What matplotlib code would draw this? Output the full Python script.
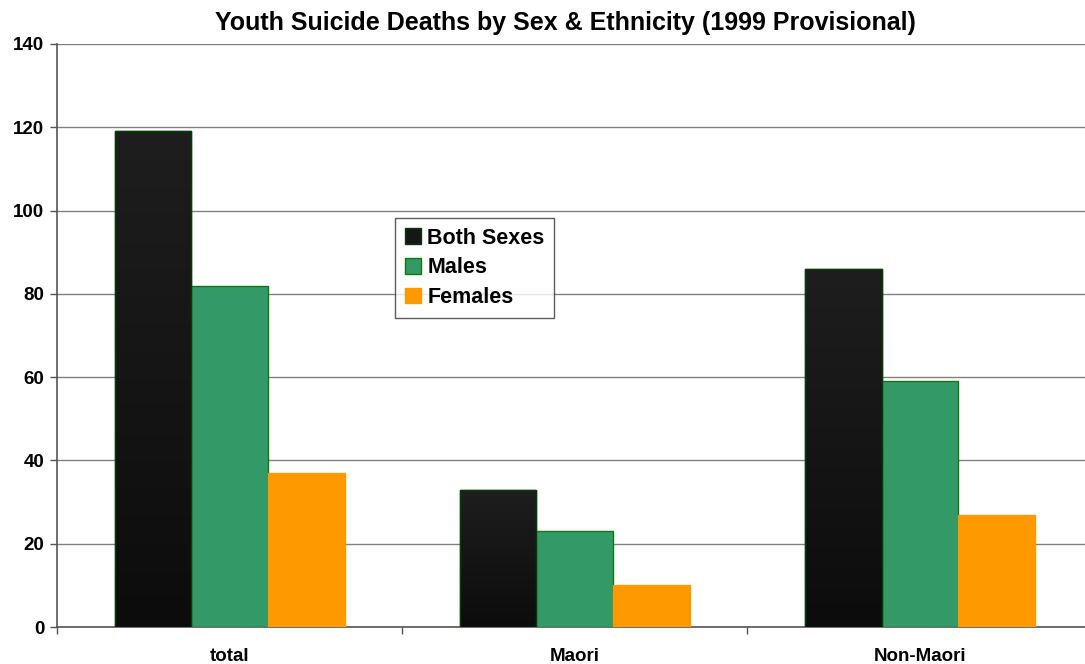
import matplotlib
matplotlib.use("Agg")
import matplotlib.pyplot as plt
import numpy as np
from matplotlib.colors import LinearSegmentedColormap
from matplotlib.patches import Patch

categories = ["total", "Maori", "Non-Maori"]
series_names = ["Both Sexes", "Males", "Females"]
both = [119, 33, 86]
males = [82, 23, 59]
females = [37, 10, 27]
yticks = [0, 20, 40, 60, 80, 100, 120, 140]

plt.rcParams['font.family'] = ['Liberation Sans', 'DejaVu Sans']
plt.rcParams['font.weight'] = 'bold'

fig = plt.figure(figsize=(10.85, 6.64), dpi=100)
ax = fig.add_axes([57/1085, 1-627/664, (1092.5-57)/1085, (627-44)/664])

x = np.arange(len(categories))
w = 1/4.5
fills = ["#161616", "#339966", "#FF9900"]
edges = ["#0a3a0a", "#117711", "#FF9900"]
data = [both, males, females]
bar_sets = []
for i, (vals, fc, ec, name) in enumerate(zip(data, fills, edges, series_names)):
    bars = ax.bar(x + (i-1)*w, vals, w, color=fc, edgecolor=ec, linewidth=1, label=name, zorder=3)
    bar_sets.append(bars)

# gradient for black bars
grad = np.linspace(0, 1, 256).reshape(-1, 1)
cmap = LinearSegmentedColormap.from_list("g", ["#0c0c0c", "#1e1e1e"])
for b in bar_sets[0]:
    x0, y0 = b.get_x(), b.get_y()
    im = ax.imshow(grad, cmap=cmap, aspect='auto', origin='lower',
                   extent=[x0, x0 + b.get_width(), y0, y0 + b.get_height()], zorder=3.5)
    im.set_clip_path(b)
    b2 = plt.Rectangle((x0, y0), b.get_width(), b.get_height(), fill=False,
                       edgecolor=edges[0], linewidth=1, zorder=4)
    ax.add_patch(b2)

ax.set_xlim(-0.5, 2.5)
ax.set_ylim(0, 140)
ax.set_yticks(yticks)
ax.yaxis.grid(True, color="#808080", linewidth=1, zorder=0)
ax.set_axisbelow(True)
ax.tick_params(axis='y', direction='out', length=5, width=1, color="#555555", labelsize=13.5, pad=4)
ax.set_xticks([-0.5, 0.5, 1.5, 2.5], minor=False)
ax.set_xticklabels([])
ax.set_xticks(x, minor=True)
ax.set_xticklabels(categories, minor=True)
ax.tick_params(axis='x', which='major', direction='out', length=5, width=1, color="#555555")
ax.tick_params(axis='x', which='minor', length=0, labelsize=13.5, pad=15)
for lab in ax.get_yticklabels() + ax.get_xticklabels(minor=True):
    lab.set_fontweight('bold')

for s in ['top', 'right']:
    ax.spines[s].set_visible(False)
ax.spines['left'].set_color("#555555")
ax.spines['bottom'].set_color("#555555")
ax.spines['left'].set_linewidth(1.2)
ax.spines['bottom'].set_linewidth(1.2)

fig.suptitle("Youth Suicide Deaths by Sex & Ethnicity (1999 Provisional)", x=565/1085, y=1-23/664,
             va='center', fontsize=18, fontweight='bold')

handles = [Patch(facecolor=fills[i], edgecolor=edges[i]) for i in range(3)]
ax_w = 1092.5 - 57
leg = ax.legend(handles, series_names, loc='upper left',
                bbox_to_anchor=((395-57)/ax_w, 1-(218-44)/583),
                frameon=True, fancybox=False, edgecolor="#333333",
                prop={'weight': 'bold', 'size': 15.5}, handlelength=0.75, handleheight=0.75,
                handletextpad=0.3, borderpad=0.45, labelspacing=0.4, borderaxespad=0)
leg.get_frame().set_linewidth(1)
leg.set_zorder(10)

fig.savefig("out.png", dpi=100)
